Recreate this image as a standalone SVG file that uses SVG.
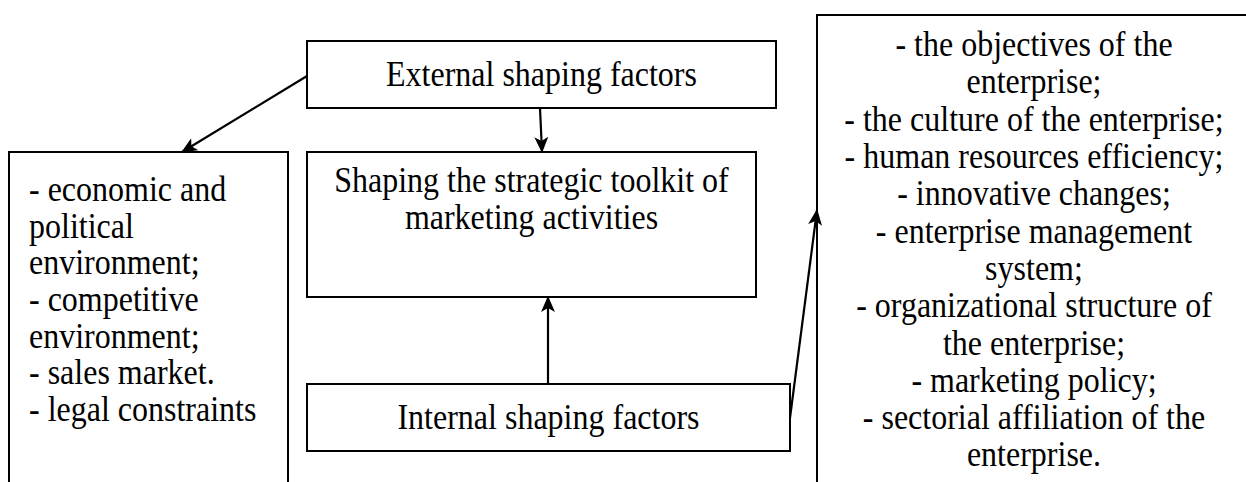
<svg xmlns="http://www.w3.org/2000/svg" width="1246" height="482" viewBox="0 0 1246 482">
<style>
.box{fill:#fff;stroke:#000;stroke-width:2}
.t{font-family:"Liberation Serif","Times New Roman",serif;font-size:32px;fill:#000}
.c{text-anchor:middle}
.conn{stroke:#000;stroke-width:2.2;fill:none}
</style>
<defs>
<marker id="ah" markerUnits="userSpaceOnUse" markerWidth="16" markerHeight="14" viewBox="0 0 16 14" refX="15" refY="7" orient="auto">
<path d="M0,0 L16,7 L0,14 L4,7 Z" fill="#000"/>
</marker>
</defs>
<rect width="1246" height="482" fill="#fff"/>
<g id="external">
<rect class="box" x="307" y="41" width="469" height="67"/>
<g transform="scale(1 1.12)">
<text class="t c" x="541.5" y="76.8">External shaping factors</text>
</g>
</g>
<g id="external-list">
<rect class="box" x="9" y="152" width="279" height="340"/>
<g transform="scale(1 1.12)">
<text class="t" x="29" y="179.5">- economic and</text>
<text class="t" x="29" y="212.5">political</text>
<text class="t" x="29" y="244.6">environment;</text>
<text class="t" x="29" y="277.7">- competitive</text>
<text class="t" x="29" y="310.7">environment;</text>
<text class="t" x="29" y="342.9">- sales market.</text>
<text class="t" x="29" y="375.9">- legal constraints</text>
</g>
</g>
<g id="toolkit">
<rect class="box" x="307" y="152" width="449" height="145"/>
<g transform="scale(1 1.12)">
<text class="t c" x="531.5" y="171.4">Shaping the strategic toolkit of</text>
<text class="t c" x="531.5" y="204.5">marketing activities</text>
</g>
</g>
<g id="internal">
<rect class="box" x="307" y="384" width="483" height="67"/>
<g transform="scale(1 1.12)">
<text class="t c" x="548.5" y="383">Internal shaping factors</text>
</g>
</g>
<g id="internal-list">
<rect class="box" x="817" y="15" width="440" height="480"/>
<g transform="scale(1 1.12)">
<text class="t c" x="1034" y="50">- the objectives of the</text>
<text class="t c" x="1034" y="83">enterprise;</text>
<text class="t c" x="1034" y="117">- the culture of the enterprise;</text>
<text class="t c" x="1034" y="150">- human resources efficiency;</text>
<text class="t c" x="1034" y="183">- innovative changes;</text>
<text class="t c" x="1034" y="217">- enterprise management</text>
<text class="t c" x="1034" y="250">system;</text>
<text class="t c" x="1034" y="283">- organizational structure of</text>
<text class="t c" x="1034" y="317">the enterprise;</text>
<text class="t c" x="1034" y="350">- marketing policy;</text>
<text class="t c" x="1034" y="383">- sectorial affiliation of the</text>
<text class="t c" x="1034" y="416">enterprise.</text>
</g>
</g>
<g id="connectors">
<line class="conn" x1="307" y1="76" x2="182" y2="152" marker-end="url(#ah)"/>
<line class="conn" x1="540" y1="108" x2="542" y2="152" marker-end="url(#ah)"/>
<line class="conn" x1="548" y1="384" x2="548" y2="297" marker-end="url(#ah)"/>
<line class="conn" x1="790" y1="418" x2="817" y2="210" marker-end="url(#ah)"/>
</g>
</svg>
